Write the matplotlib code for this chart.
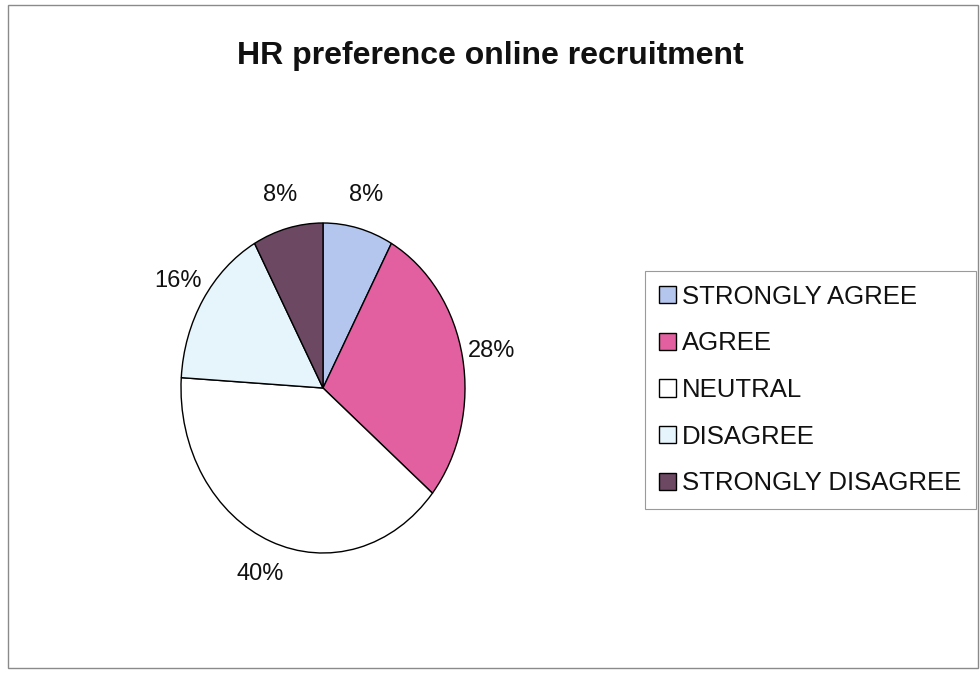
import matplotlib
matplotlib.use("Agg")
import matplotlib.pyplot as plt
from matplotlib.patches import Rectangle

# Chart data
categories = ["STRONGLY AGREE", "AGREE", "NEUTRAL", "DISAGREE", "STRONGLY DISAGREE"]
shares = [8, 28, 40, 16, 8]
colors = ["#b4c6ee", "#e2609f", "#ffffff", "#e6f5fb", "#6c4863"]
title = "HR preference online recruitment"

plt.rcParams["font.family"] = ["Liberation Sans", "DejaVu Sans"]

W, H = 980, 681
fig = plt.figure(figsize=(W / 100, H / 100), dpi=100)

# Pie is drawn as an ellipse, like the scanned original
cx, cy, rx, ry = 323, 388, 142, 165
ax = fig.add_axes([(cx - rx) / W, (H - cy - ry) / H, 2 * rx / W, 2 * ry / H])
wedges, texts, autotexts = ax.pie(
    shares, colors=colors, startangle=90, counterclock=False,
    autopct="%1.0f%%", pctdistance=1.21,
    wedgeprops=dict(edgecolor="black", linewidth=1.0),
    textprops=dict(fontsize=17, color="#111111"))
ax.set_aspect("auto")
ax.set_xlim(-1, 1)
ax.set_ylim(-1, 1)
ax.axis("off")

fig.text(0.5, 1 - 56 / H, title, ha="center", va="center",
         fontsize=23, fontweight="bold", color="#111111")

leg = fig.legend(wedges, categories, loc="center left",
                 bbox_to_anchor=(645 / W, 1 - 390 / H), borderaxespad=0,
                 fontsize=18.5, handlelength=0.65, handleheight=0.65,
                 handletextpad=0.25, labelspacing=0.88, borderpad=0.55,
                 fancybox=False, framealpha=1)
leg.get_frame().set_edgecolor("#9a9a9a")
leg.get_frame().set_linewidth(0.8)
for t in leg.get_texts():
    t.set_color("#111111")

# outer chart border
fig.patches.append(Rectangle((8 / W, 13 / H), 970 / W, 663 / H,
                             transform=fig.transFigure, fill=False,
                             edgecolor="#8a8a8a", linewidth=1.0))

fig.savefig("out.png", dpi=100)
